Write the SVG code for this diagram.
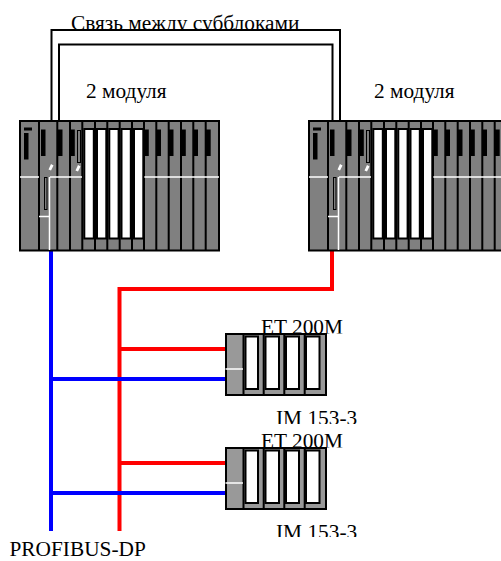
<svg xmlns="http://www.w3.org/2000/svg" width="501" height="561" viewBox="0 0 501 561">
<style>
text{font-family:"Liberation Serif","Times New Roman",serif;font-size:21.33px;fill:#000}
.bk{fill:none;stroke:#000;stroke-width:2}
.wl{fill:none;stroke:#fff;stroke-width:1.5}
.dv{stroke:#000;stroke-width:2}
.win{fill:#fff;stroke:#000;stroke-width:2}
.r{fill:none;stroke:#f00;stroke-width:4}
.b{fill:none;stroke:#00f;stroke-width:4}
.gr{fill:#808080;stroke:#000;stroke-width:2}
</style>
<defs>
<clipPath id="c1"><rect x="0" y="0" width="501" height="29.500"/></clipPath>
<clipPath id="c2"><rect x="200" y="280" width="200" height="53.500"/></clipPath>
<clipPath id="c3"><rect x="200" y="380" width="200" height="44"/></clipPath>
<clipPath id="c4"><rect x="200" y="420" width="200" height="27.500"/></clipPath>
<clipPath id="c5"><rect x="200" y="500" width="200" height="37"/></clipPath>
<g id="rack">
<rect class="gr" x="20" y="121" width="199" height="129.500"/>
<path class="dv" d="M39 121V250M57.300 121V250M70 121V250M82.300 121V250M95 121V250M107.300 121V250M119.700 121V250M132 121V250M144 121V250M156.300 121V250M168.700 121V250M181 121V250M193.300 121V250M205.700 121V250"/>
<path d="M24 127.500h8v3h-8zM24 133h4.500v26.500H24zM41 129.500h4.500v26.500H41zM57.500 129.500h5v26.500h-5zM70.300 129.500h4.500v26.500h-4.500zM144.300 129.500h4.500v26.500h-4.500zM156.500 129.500h4.500v26.500h-4.500zM169 129.500h4.500v26.500H169zM181.300 129.500h4.500v26.500h-4.500zM193.500 129.500h4.500v26.500h-4.500zM205.700 129.500h5v26.500h-5z" fill="#000"/>
<path class="wl" d="M20 177H39M50 177H82M144 177H219M39 216.500H50M49.500 177V250"/>
<path d="M48.500 169.500L51 164L53.500 165.500L51 170.500ZM75.500 170.500L78 165L80.500 166.500L78 171.500Z" fill="#fff"/>
<rect x="44.500" y="177.500" width="2.500" height="32" fill="#808080" stroke="#000"/>
<rect x="77.500" y="130.500" width="3" height="32" fill="#808080" stroke="#000"/>
<rect class="win" x="84.300" y="129" width="9.500" height="109.500"/>
<rect class="win" x="97" y="129" width="9.300" height="109.500"/>
<rect class="win" x="109.300" y="129" width="9.300" height="109.500"/>
<rect class="win" x="121.500" y="129" width="9.300" height="109.500"/>
<rect class="win" x="134" y="129" width="9.300" height="109.500"/>
</g>
<g id="et">
<rect x="226" y="334" width="100" height="61" fill="#999" stroke="#000" stroke-width="2"/>
<path d="M243.500 334v61M263.700 334v61M284.300 334v61M304.700 334v61" stroke="#000" stroke-width="2"/>
<rect class="win" x="245.500" y="336.500" width="12.500" height="52.500"/>
<rect class="win" x="265.500" y="336.500" width="13.500" height="52.500"/>
<rect class="win" x="286" y="336.500" width="13" height="52.500"/>
<rect class="win" x="306" y="336.500" width="13.500" height="52.500"/>
<path class="wl" d="M225.500 369H243"/>
</g>
</defs>
<g id="connectors">
<path class="bk" d="M51.500 121V30H340V121"/>
<path class="bk" d="M59 121V44.500H332.500V121"/>
<path class="r" d="M332 250V289H119.500V531"/>
<path class="r" d="M119.500 349H226M119.500 463H226"/>
<path class="b" d="M51 250V531"/>
<path class="b" d="M51 379H226M51 493H226"/>
</g>
<g id="rack-left"><use href="#rack"/></g>
<g id="rack-right"><use href="#rack" x="289"/></g>
<g id="et200m-1"><use href="#et"/></g>
<g id="et200m-2"><use href="#et" y="114"/></g>
<g id="labels">
<text x="71" y="30" clip-path="url(#c1)">Связь между субблоками</text>
<text x="86" y="98">2 модуля</text>
<text x="374" y="98">2 модуля</text>
<g clip-path="url(#c2)"><text x="261" y="333.500">ET 200M</text></g>
<g clip-path="url(#c3)"><text x="276" y="425">IM 153-3</text></g>
<g clip-path="url(#c4)"><text x="261" y="447.500">ET 200M</text></g>
<g clip-path="url(#c5)"><text x="276" y="539">IM 153-3</text></g>
<text x="9.500" y="556">PROFIBUS-DP</text>
</g>
</svg>
